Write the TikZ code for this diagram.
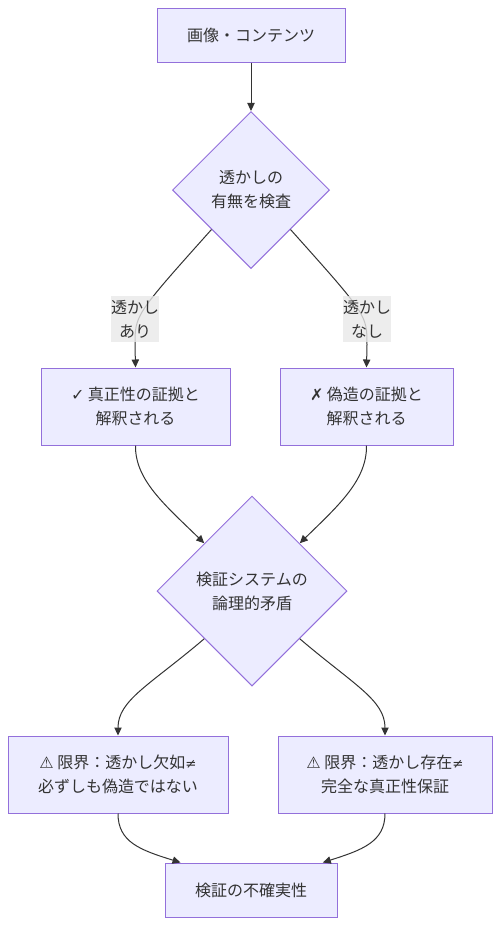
\documentclass[tikz,border=0pt]{standalone}
\usepackage{fontspec}
\setmainfont{Noto Sans CJK JP}
\newfontfamily\symf{DejaVu Sans}
\usetikzlibrary{shapes.geometric,arrows.meta}
\definecolor{nodefill}{HTML}{ECECFF}
\definecolor{nodeline}{HTML}{9370DB}
\definecolor{txt}{HTML}{333333}
\definecolor{lblbg}{HTML}{E8E8E8}
\tikzset{
  base/.style={draw=nodeline, fill=nodefill, line width=0.75pt, text=txt, align=center,
    font=\fontsize{12pt}{18pt}\selectfont, inner sep=0pt},
  box/.style={base, rectangle},
  dia/.style={base, diamond, aspect=1},
  elabel/.style={fill=lblbg, fill opacity=0.8, text opacity=1, text=txt, align=center,
    font=\fontsize{12pt}{18pt}\selectfont, inner sep=0pt, minimum width=34.5pt, minimum height=34.5pt},
  link/.style={draw=txt, line width=0.75pt, -{Triangle[length=6pt,width=5.5pt]}}
}
\begin{document}
\begin{tikzpicture}[x=0.75pt, y=-0.75pt]
\useasboundingbox (0,0) rectangle (501,926);
\node[box, minimum width=141pt, minimum height=40.5pt] (A) at (251,35) {画像・コンテンツ};
\node[dia, minimum width=117.75pt, minimum height=117.75pt] (B) at (251,190) {透かしの\\有無を検査};
\node[box, minimum width=141.75pt, minimum height=57.75pt] (C) at (135.5,406.5) {{\symf ✓} 真正性の証拠と\\解釈される};
\node[box, minimum width=129.75pt, minimum height=57.75pt] (D) at (366.5,406.5) {{\symf ✗} 偽造の証拠と\\解釈される};
\node[dia, minimum width=142.5pt, minimum height=142.5pt] (E) at (252,591) {検証システムの\\論理的矛盾};
\node[box, minimum width=165pt, minimum height=57.75pt] (F) at (118,774.5) {{\symf ⚠} 限界：透かし欠如{\symf\fontsize{10pt}{18pt}\selectfont ≠}\\必ずしも偽造ではない};
\node[box, minimum width=160.5pt, minimum height=57.75pt] (G) at (385,774.5) {{\symf ⚠} 限界：透かし存在{\symf\fontsize{10pt}{18pt}\selectfont ≠}\\完全な真正性保証};
\node[box, minimum width=129pt, minimum height=40.5pt] (H) at (251,890) {検証の不確実性};

\draw[link] (A) -- (B);
\draw[link] (B.south west) .. controls (135,315) .. (135,345) -- (C.north);
\draw[link] (B.south east) .. controls (367,315) .. (367,345) -- (D.north);
\draw[link] (C.south) .. controls (135,480) and (165,505) .. (E.north west);
\draw[link] (D.south) .. controls (367,480) and (339,505) .. (E.north east);
\draw[link] (E.south west) .. controls (150,685) and (118,700) .. (F.north);
\draw[link] (E.south east) .. controls (354,685) and (385,700) .. (G.north);
\draw[link] (F.south) .. controls (118,842) and (140,850) .. ([xshift=12pt]H.north west);
\draw[link] (G.south) .. controls (385,842) and (362,850) .. ([xshift=-11pt]H.north east);

\node[elabel] (L1) at (135,319) {透かし\\あり};
\node[elabel] (L2) at (367,319) {透かし\\なし};
\end{tikzpicture}
\end{document}
